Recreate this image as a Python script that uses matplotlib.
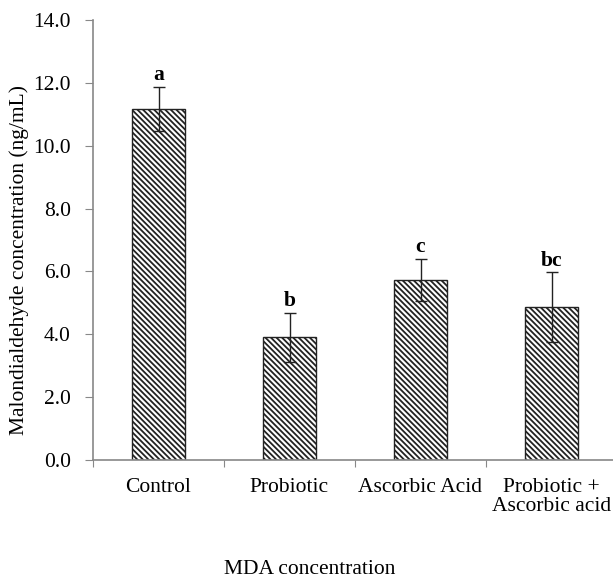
import matplotlib
matplotlib.use("Agg")
import matplotlib.pyplot as plt
import numpy as np

categories = ["Control", "Probiotic", "Ascorbic Acid", "Probiotic +\nAscorbic acid"]
values = [11.17, 3.91, 5.73, 4.87]
errors = [0.70, 0.78, 0.68, 1.10]
letters = ["a", "b", "c", "bc"]
yticks = [0, 2, 4, 6, 8, 10, 12, 14]

plt.rcParams['font.family'] = ['Liberation Serif', 'DejaVu Serif']
plt.rcParams['hatch.linewidth'] = 1.3
plt.rcParams['hatch.color'] = '#444444'

fs = 15.5
fig = plt.figure(figsize=(6.13, 5.79), dpi=100)
ax = fig.add_axes([93/613, 1-460/579, 524/613, 440/579])

x = np.arange(len(categories))
bars = ax.bar(x, values, width=0.4, color='white', edgecolor='#222222', linewidth=1.0,
              hatch='\\\\\\\\\\\\', zorder=2)
ax.errorbar(x, values, yerr=errors, fmt='none', ecolor='#222222', elinewidth=1.0,
            capsize=4, capthick=1.0, zorder=3)
for xi, v, e, t in zip(x, values, errors, letters):
    ax.text(xi, v + e + 0.05, t, ha='center', va='bottom', fontsize=fs, fontweight='bold')

ax.set_xlim(-0.5, 3.5)
ax.set_ylim(0, 14)
ax.set_yticks(yticks)
ax.set_yticklabels([f"{t:.1f}" for t in yticks], fontsize=fs)
ax.set_xticks(np.arange(-0.5, 4.0, 1.0), minor=False)
ax.set_xticklabels([])
ax.set_xticks(x, minor=True)
ax.set_xticklabels(categories, minor=True, fontsize=fs, linespacing=1.0)
ax.tick_params(axis='x', which='minor', length=0, pad=13)
ax.tick_params(axis='x', which='major', length=5, color='#888888', direction='out')
ax.tick_params(axis='y', length=6, color='#888888', direction='out', pad=10)
for s in ['top', 'right']:
    ax.spines[s].set_visible(False)
for s in ['left', 'bottom']:
    ax.spines[s].set_color('#888888')
    ax.spines[s].set_linewidth(1.2)

fig.text(19/613, 1-260/579, "Malondialdehyde concentration (ng/mL)", rotation=90,
         ha='center', va='center', fontsize=fs)
fig.text(310/613, 1-570/579, "MDA concentration", ha='center', va='center', fontsize=fs)

fig.savefig("out.png", dpi=100)
